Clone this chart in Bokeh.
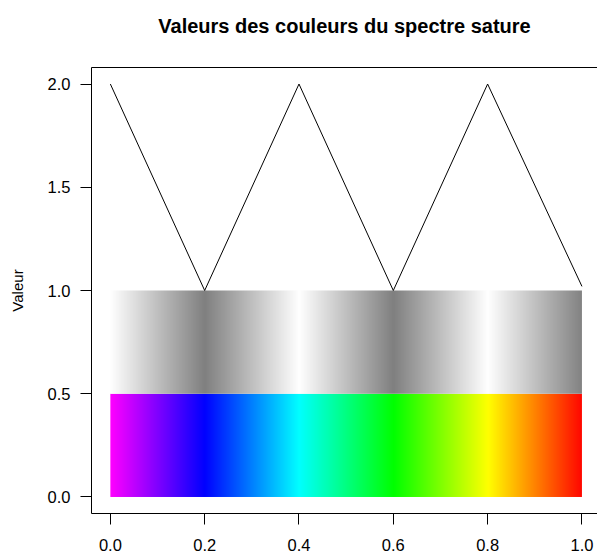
import numpy as np
from bokeh.plotting import figure
from bokeh.models import Range1d, FixedTicker, LinearAxis
from bokeh.embed import file_html
from bokeh.resources import INLINE

# Saturated spectrum sampled at its key hues (magenta -> red)
stop_x = [0.0, 0.2, 0.4, 0.6, 0.8, 1.0]
stop_colors = ["#FF00FF", "#0000FF", "#00FFFF", "#00FF00", "#FFFF00", "#FF0500"]
# Sum of the R, G and B components (0..1 each) at those hues
sum_values = [2.0, 1.0, 2.0, 1.0, 2.0, 1.02]

x_ticks = [0.0, 0.2, 0.4, 0.6, 0.8, 1.0]
y_ticks = [0.0, 0.5, 1.0, 1.5, 2.0]

FONT = "Liberation Sans"
TITLE = "Valeurs des couleurs du spectre sature"


def hex_to_rgb(h):
    h = h.lstrip("#")
    return [int(h[i:i + 2], 16) / 255.0 for i in (0, 2, 4)]


def gradient(xs, channels, n=944):
    """Build a 1-row RGBA strip by blending between the given colour stops."""
    grid = np.linspace(xs[0], xs[-1], n)
    img = np.zeros((1, n), dtype=np.uint32)
    view = img.view(dtype=np.uint8).reshape((1, n, 4))
    for k in range(3):
        view[0, :, k] = np.round(np.interp(grid, xs, channels[k]) * 255).astype(np.uint8)
    view[0, :, 3] = 255
    return img


rgb = np.array([hex_to_rgb(c) for c in stop_colors]).T  # 3 x stops
spectrum_img = gradient(stop_x, rgb)

# grey level shows the component sum rescaled to 0..1
grey = np.array(sum_values) / 2.0
grey_img = gradient(stop_x, [grey, grey, grey])

p = figure(width=597, height=554, output_backend="svg", toolbar_location=None,
           x_range=Range1d(-0.04, 1.033), y_range=Range1d(-0.08, 2.08),
           min_border_left=91, min_border_right=0, min_border_top=67,
           min_border_bottom=41, x_axis_location="below", y_axis_location="left")

p.outline_line_color = None
p.grid.grid_line_color = None
p.background_fill_color = "white"
p.border_fill_color = "white"

p.image_rgba(image=[spectrum_img], x=stop_x[0], y=0.0, dw=stop_x[-1] - stop_x[0], dh=0.5)
p.image_rgba(image=[grey_img], x=stop_x[0], y=0.5, dw=stop_x[-1] - stop_x[0], dh=0.5)

p.line(stop_x, sum_values, line_color="black", line_width=1)

for ax in (p.xaxis[0], p.yaxis[0]):
    ax.axis_line_color = "black"
    ax.major_tick_line_color = "black"
    ax.major_tick_out = 11
    ax.major_tick_in = 0
    ax.minor_tick_line_color = None
    ax.major_label_text_font = FONT
    ax.major_label_text_font_size = "16.5px"
    ax.major_label_text_color = "black"

p.xaxis.ticker = FixedTicker(ticks=x_ticks)
p.xaxis.major_label_overrides = {t: f"{t:.1f}" for t in x_ticks}
p.xaxis.major_label_standoff = 14

p.yaxis.ticker = FixedTicker(ticks=y_ticks)
p.yaxis.major_label_overrides = {t: f"{t:.1f}" for t in y_ticks}
p.yaxis.major_label_orientation = "horizontal"
p.yaxis.major_label_standoff = 10
p.yaxis.axis_label = "Valeur"
p.yaxis.axis_label_text_font = FONT
p.yaxis.axis_label_text_font_size = "15px"
p.yaxis.axis_label_text_font_style = "normal"
p.yaxis.axis_label_text_color = "black"
p.yaxis.axis_label_standoff = 19

# top edge of the box, carrying the chart title
top = LinearAxis(ticker=FixedTicker(ticks=[]), major_label_text_font_size="0px",
                 major_label_standoff=0, major_tick_out=0, major_tick_in=0,
                 major_tick_line_color=None, minor_tick_line_color=None,
                 axis_line_color="black",
                 axis_label=TITLE, axis_label_text_font=FONT,
                 axis_label_text_font_size="20px", axis_label_text_font_style="bold",
                 axis_label_text_color="black", axis_label_standoff=31)
p.add_layout(top, "above")

open("out.html", "w").write(file_html(p, INLINE))
